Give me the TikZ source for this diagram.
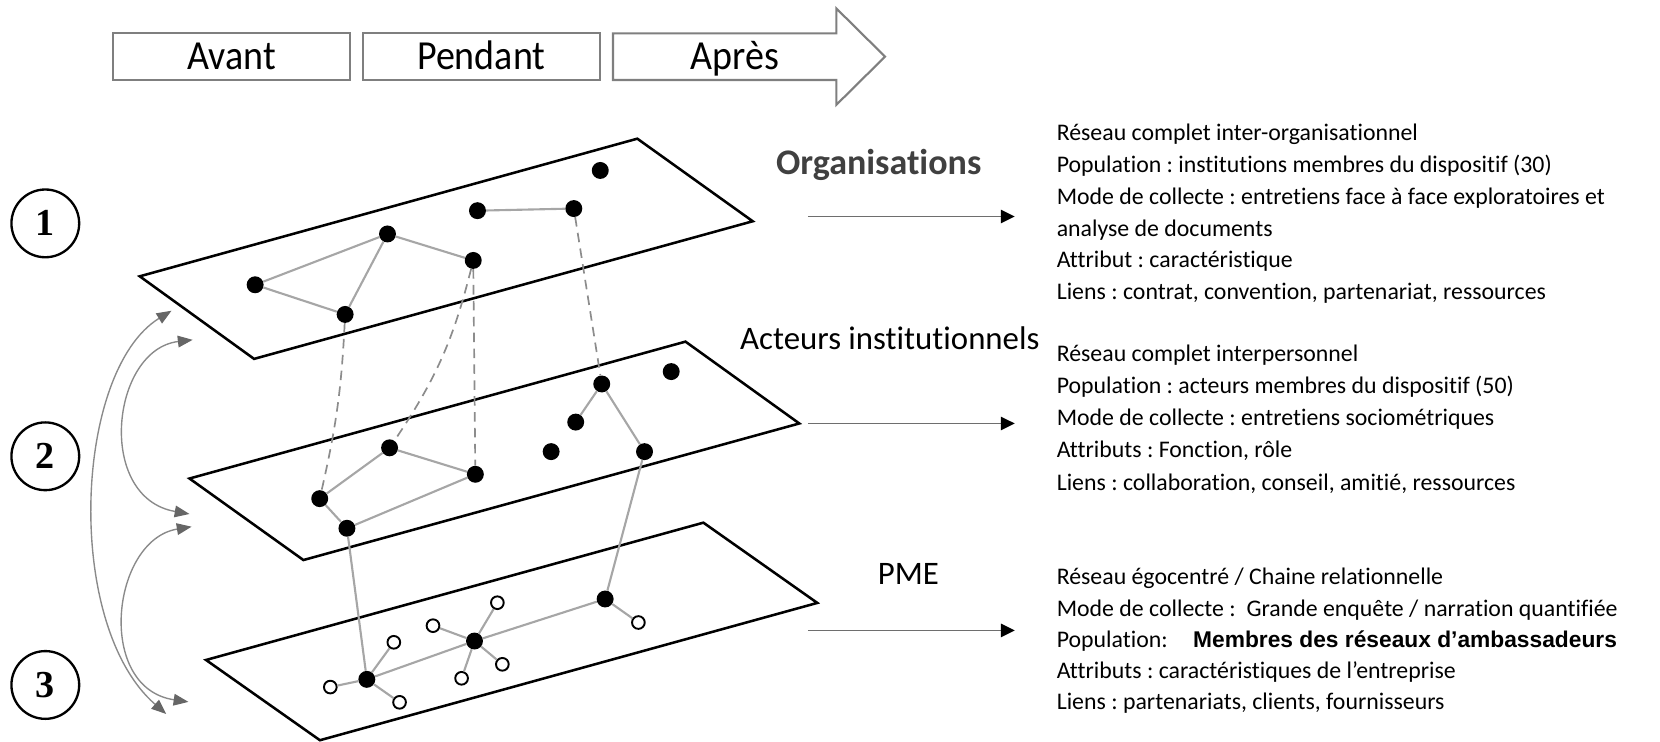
\documentclass[tikz,border=0pt]{standalone}
\usepackage{fontspec}
\usepackage{graphicx}
\setmainfont{Carlito}[Ligatures={NoCommon,NoContextual}]
\newfontfamily\arialfont{Liberation Sans}
\newfontfamily\seriffont{Liberation Serif}
\usetikzlibrary{arrows.meta}
\frenchspacing
\definecolor{edgegray}{HTML}{A6A6A6}
\definecolor{dashgray}{HTML}{8C8C8C}
\definecolor{sidegray}{HTML}{8A8A8A}
\definecolor{headgray}{HTML}{666666}
\definecolor{boxgray}{HTML}{7F7F7F}
\definecolor{orggray}{HTML}{404040}
\definecolor{descgray}{HTML}{6E6E6E}
\tikzset{
  plane/.style={draw=black, line width=2.4pt, line join=miter},
  dot/.style={circle, fill=black, inner sep=0pt, minimum size=16pt},
  odot/.style={circle, draw=black, fill=white, line width=1.8pt, inner sep=0pt, minimum size=12pt},
  edge/.style={draw=edgegray, line width=2pt},
  dashedge/.style={draw=dashgray, line width=1.6pt, dash pattern=on 9pt off 6pt},
  sidearrow/.style={draw=sidegray, line width=1.3pt,
    {Triangle[length=14pt,width=11pt,color=headgray,fill=headgray]}-{Triangle[length=14pt,width=11pt,color=headgray,fill=headgray]}},
  descarrow/.style={draw=descgray, line width=1.6pt, -{Triangle[length=13pt,width=12.5pt,color=black,fill=black]}},
  desc/.style={anchor=base west, inner sep=0pt, font=\fontsize{22.5}{27}\selectfont},
  tbox/.style={draw=boxgray, line width=2pt, fill=white},
  ttext/.style={inner sep=0pt, font=\fontsize{39}{44}\selectfont, text height=25pt, text depth=0pt},
  numc/.style={circle, draw=black, line width=2.2pt, minimum size=64pt, inner sep=0pt,
    font=\seriffont\bfseries\fontsize{36}{40}\selectfont},
  layerlab/.style={anchor=base, inner sep=0pt, font=\fontsize{31}{35}\selectfont}
}
\begin{document}
\begin{tikzpicture}[x=1pt,y=-1pt]
\useasboundingbox (0,0) rectangle (1568,700);

% ---------- timeline ----------
\node[tbox, ttext, minimum width=224pt, minimum height=44pt] (avant) at (219,53.5) {\scalebox{0.92}[1]{Avant}};
\node[tbox, ttext, minimum width=224pt, minimum height=44pt] (pendant) at (454.6,53.5) {\scalebox{0.92}[1]{Pendant}};
\draw[tbox] (579,31.5) -- (790,31.5) -- (790,8) -- (836,53.5) -- (790,99) -- (790,75.6) -- (579,75.6) -- cycle;
\node[ttext] (apres) at (694,53.5) {\scalebox{0.92}[1]{Après}};

% ---------- numbered circles ----------
\node[numc] (n1) at (42.8,211) {1};
\node[numc] (n2) at (42.8,431) {2};
\node[numc] (n3) at (42.8,647) {3};

% ---------- planes ----------
\draw[plane] (132,261) -- (602,131) -- (711,209) -- (240,339) -- cycle;
\draw[plane] (179,452) -- (647.5,322.7) -- (755,400) -- (286.6,529) -- cycle;
\draw[plane] (194.6,623.4) -- (664.4,493.7) -- (772,569.5) -- (302.2,699.2) -- cycle;

% ---------- nodes plane 1 ----------
\node[dot] (a) at (241,269) {};
\node[dot] (b) at (366,221) {};
\node[dot] (c) at (447,246) {};
\node[dot] (d) at (326,297) {};
\node[dot] (e) at (451,199) {};
\node[dot] (f) at (542,197) {};
\node[dot] (g) at (567,161) {};
% ---------- nodes plane 2 ----------
\node[dot] (h) at (368,423) {};
\node[dot] (i) at (449,448) {};
\node[dot] (j) at (302,471) {};
\node[dot] (k) at (327.7,499) {};
\node[dot] (l) at (568.4,362.7) {};
\node[dot] (m) at (634,351) {};
\node[dot] (n) at (543.8,398.7) {};
\node[dot] (o) at (520.6,426.6) {};
\node[dot] (p) at (608.8,426.6) {};
% ---------- nodes plane 3 ----------
\node[dot] (q) at (346.5,641.7) {};
\node[dot] (r) at (448.2,605.5) {};
\node[dot] (s) at (571.6,565.8) {};
\node[odot] (o1) at (312,649) {};
\node[odot] (o2) at (372,606.7) {};
\node[odot] (o3) at (377.4,663.4) {};
\node[odot] (o4) at (409,591) {};
\node[odot] (o5) at (469.8,569.3) {};
\node[odot] (o6) at (474.5,627.5) {};
\node[odot] (o7) at (436,640.7) {};
\node[odot] (o8) at (603,588) {};

% ---------- edges ----------
\draw[edge] (a) -- (b);
\draw[edge] (a) -- (d);
\draw[edge] (b) -- (d);
\draw[edge] (b) -- (c);
\draw[edge] (e) -- (f);
\draw[edge] (h) -- (i);
\draw[edge] (h) -- (j);
\draw[edge] (j) -- (k);
\draw[edge] (k) -- (i);
\draw[edge] (l) -- (n);
\draw[edge] (l) -- (p);
\draw[edge] (k) -- (q);
\draw[edge] (p) -- (s);
\draw[edge] (q) -- (o1);
\draw[edge] (q) -- (o2);
\draw[edge] (q) -- (o3);
\draw[edge] (q) -- (r);
\draw[edge] (r) -- (o4);
\draw[edge] (r) -- (o5);
\draw[edge] (r) -- (o6);
\draw[edge] (r) -- (o7);
\draw[edge] (r) -- (s);
\draw[edge] (s) -- (o8);
\draw[dashedge] (d) to[bend left=5] (j);
\draw[dashedge] (c) to[bend left=10] (h);
\draw[dashedge] (c) -- (i);
\draw[dashedge] (f) -- (l);

% ---------- side arrows ----------
\coordinate (s1t) at (162,293.5);
\coordinate (s1b) at (157,674.4);
\coordinate (s2t) at (182,321);
\coordinate (s2b) at (179,485.5);
\coordinate (s3t) at (181,497.5);
\coordinate (s3b) at (178,663);
\draw[sidearrow] (s1t) .. controls (70,350) and (60,590) .. (s1b);
\draw[sidearrow] (s2t) .. controls (105,330) and (90,470) .. (s2b);
\draw[sidearrow] (s3t) .. controls (105,510) and (90,650) .. (s3b);

% ---------- layer labels ----------
\node[layerlab, font=\bfseries\fontsize{34}{38}\selectfont, text=orggray] (lorg) at (830,165) {Organisations};
\node[layerlab, anchor=base west] (lact) at (699,330.6) {Acteurs institutionnels};
\node[layerlab] (lpme) at (858,552) {PME};

% ---------- description arrows ----------
\coordinate (a1s) at (763,204.5); \coordinate (a1e) at (958.5,204.5);
\coordinate (a2s) at (763,400); \coordinate (a2e) at (958.5,400);
\coordinate (a3s) at (763,595.5); \coordinate (a3e) at (958.5,595.5);
\draw[descarrow] (a1s) -- (a1e);
\draw[descarrow] (a2s) -- (a2e);
\draw[descarrow] (a3s) -- (a3e);

% ---------- descriptions ----------
\node[desc] (t11) at (998,133) {Réseau complet inter-organisationnel};
\node[desc] (t12) at (998,163) {Population : institutions membres du dispositif (30)};
\node[desc] (t13) at (998,193) {Mode de collecte : entretiens face à face exploratoires et};
\node[desc] (t14) at (998,223) {analyse de documents};
\node[desc] (t15) at (998,253) {Attribut : caractéristique};
\node[desc] (t16) at (998,283) {Liens : contrat, convention, partenariat, ressources};

\node[desc] (t21) at (998,341) {Réseau complet interpersonnel};
\node[desc] (t22) at (998,371.5) {Population : acteurs membres du dispositif (50)};
\node[desc] (t23) at (998,402) {Mode de collecte : entretiens sociométriques};
\node[desc] (t24) at (998,432.5) {Attributs : Fonction, rôle};
\node[desc] (t25) at (998,463) {Liens : collaboration, conseil, amitié, ressources};

\node[desc] (t31) at (998,552) {Réseau égocentré / Chaine relationnelle};
\node[desc] (t32) at (998,582) {Mode de collecte :\ \ Grande enquête / narration quantifiée};
\node[desc] (t33) at (998,612) {Population:\hspace{24pt}{\arialfont\bfseries\fontsize{21.5}{24}\selectfont Membres des réseaux d’ambassadeurs}};
\node[desc] (t34) at (998,641) {Attributs : caractéristiques de l’entreprise};
\node[desc] (t35) at (998,670) {Liens : partenariats, clients, fournisseurs};
\end{tikzpicture}
\end{document}
